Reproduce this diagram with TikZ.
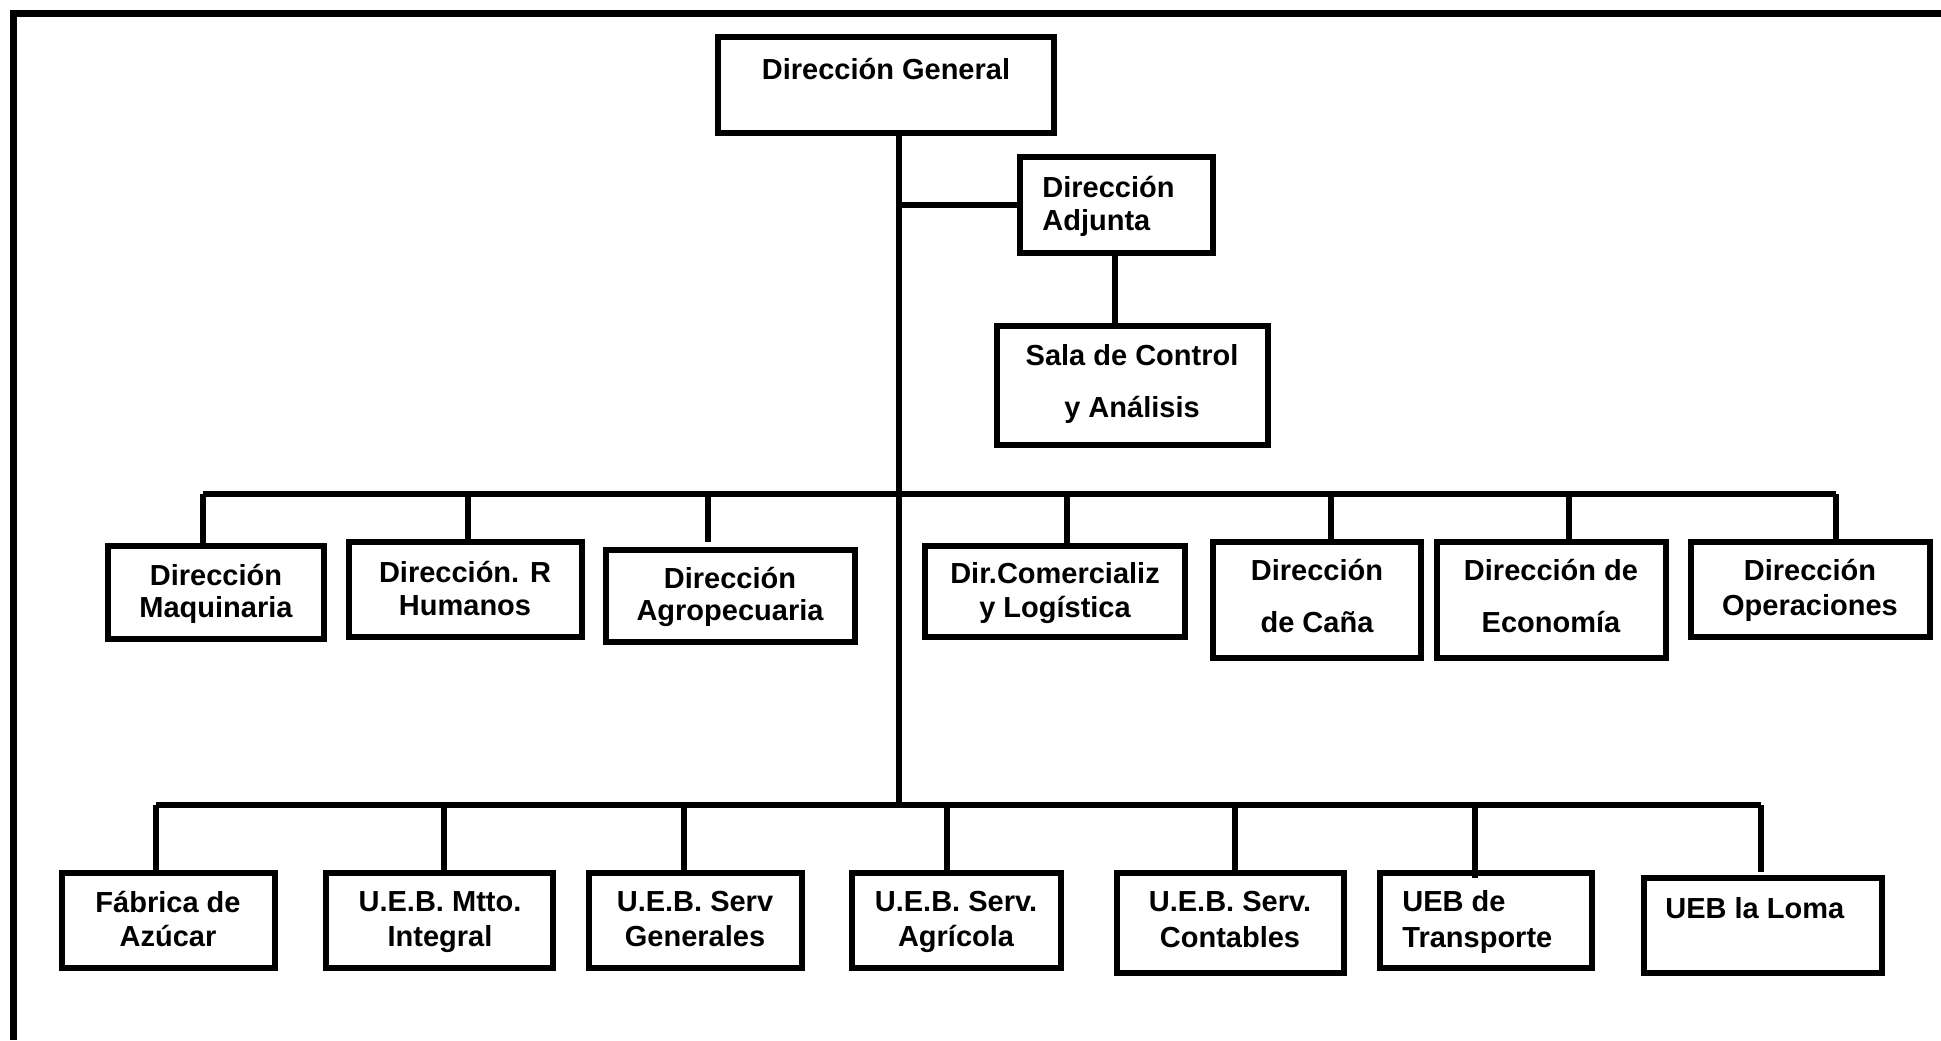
\documentclass[tikz,border=0pt]{standalone}
\usepackage{fontspec}
\setmainfont{Liberation Sans}
\newcommand\obox[5]{\node[bx, minimum width={(#4-#2-6)*0.5pt}, minimum height={(#5-#3-6)*0.5pt}] (#1) at ({(#2+#4)/2},{(#3+#5)/2}) {};}
\begin{document}
\begin{tikzpicture}[x=0.5pt,y=-0.5pt,
  bx/.style={draw, line width=3pt, rectangle, inner sep=0pt, fill=white},
  lbl/.style={inner sep=0pt, font=\fontsize{14.5pt}{17pt}\selectfont\bfseries},
  lc/.style={lbl, anchor=base},
  ll/.style={lbl, anchor=base west},
  conn/.style={line width=2.8pt},
  bus/.style={line width=3.2pt},
  frame/.style={line width=3.5pt, line join=miter}]
\useasboundingbox (0,0) rectangle (1941,1040);
\fill[white] (0,0) rectangle (1941,1040);
\draw[frame] (13,1040) -- (13,13) -- (1941,13);
% boxes
\obox{dg}{715}{34}{1057}{136}
\obox{adj}{1017}{154}{1216}{256}
\obox{sala}{994}{323}{1271}{448}
\obox{maq}{105}{543}{327}{642}
\obox{rh}{346}{539}{585}{640}
\obox{agro}{603}{547}{858}{645}
\obox{com}{922}{543}{1188}{640}
\obox{cana}{1210}{539}{1424}{661}
\obox{eco}{1434}{539}{1669}{661}
\obox{ope}{1688}{539}{1933}{640}
\obox{fab}{59}{870}{278}{971}
\obox{mtto}{323}{870}{556}{971}
\obox{sg}{586}{870}{805}{971}
\obox{sa}{849}{870}{1064}{971}
\obox{cont}{1114}{870}{1347}{976}
\obox{trans}{1377}{870}{1595}{971}
\obox{loma}{1641}{875}{1885}{976}
% bus coordinates
\coordinate (mL) at (203,494);
\coordinate (mR) at (1836,494);
\coordinate (bL) at (156,805);
\coordinate (bR) at (1761,805);
\coordinate (trunk) at (899,805);
\coordinate (adjj) at (899,205);
% trunk and upper connectors
\draw[conn] (dg.south -| trunk) -- (trunk);
\draw[conn] (adjj) -- (adjj -| adj.west);
\draw[conn] (1115,0 |- adj.south) -- (1115,0 |- sala.north);
% middle bus
\draw[bus] (mL) -- (mR);
\draw[conn] (mL) -- (mL |- maq.north);
\draw[conn] (468,494) -- (468,0 |- rh.north);
\coordinate (agroend) at (708,542);
\draw[conn] (708,494) -- (agroend);
\draw[conn] (1067,494) -- (1067,0 |- com.north);
\draw[conn] (1331,494) -- (1331,0 |- cana.north);
\draw[conn] (1569,494) -- (1569,0 |- eco.north);
\draw[conn] (mR) -- (mR |- ope.north);
% bottom bus
\draw[bus] (bL) -- (bR);
\draw[conn] (bL) -- (bL |- fab.north);
\draw[conn] (444,805) -- (444,0 |- mtto.north);
\draw[conn] (684,805) -- (684,0 |- sg.north);
\draw[conn] (947,805) -- (947,0 |- sa.north);
\draw[conn] (1235,805) -- (1235,0 |- cont.north);
\coordinate (transend) at (1475,878);
\draw[conn] (1475,805) -- (transend);
\coordinate (lomaend) at (1761,872);
\draw[conn] (bR) -- (lomaend);
% labels
\node[lc] (tdg) at (886,79) {Dirección General};
\node[ll] (tadj1) at (1042,197) {Dirección};
\node[ll] (tadj2) at (1042,230) {Adjunta};
\node[lc] (tsala1) at (1132,365) {Sala de Control};
\node[lc] (tsala2) at (1132,417) {y Análisis};
\node[lc] (tmaq1) at (216,585) {Dirección};
\node[lc] (tmaq2) at (216,617) {Maquinaria};
\node[lc] (trh1) at (465,582) {Dirección. R};
\node[lc] (trh2) at (465,615) {Humanos};
\node[lc] (tagro1) at (730,588) {Dirección};
\node[lc] (tagro2) at (730,620) {Agropecuaria};
\node[lc] (tcom1) at (1055,583) {Dir.Comercializ};
\node[lc] (tcom2) at (1055,617) {y Logística};
\node[lc] (tcana1) at (1317,580) {Dirección};
\node[lc] (tcana2) at (1317,632) {de Caña};
\node[lc] (teco1) at (1551,580) {Dirección de};
\node[lc] (teco2) at (1551,632) {Economía};
\node[lc] (tope1) at (1810,580) {Dirección};
\node[lc] (tope2) at (1810,615) {Operaciones};
\node[lc] (tfab1) at (168,912) {Fábrica de};
\node[lc] (tfab2) at (168,946) {Azúcar};
\node[lc] (tmtto1) at (440,911) {U.E.B. Mtto.};
\node[lc] (tmtto2) at (440,946) {Integral};
\node[lc] (tsg1) at (695,911) {U.E.B. Serv};
\node[lc] (tsg2) at (695,946) {Generales};
\node[lc] (tsa1) at (956,911) {U.E.B. Serv.};
\node[lc] (tsa2) at (956,946) {Agrícola};
\node[lc] (tcont1) at (1230,911) {U.E.B. Serv.};
\node[lc] (tcont2) at (1230,947) {Contables};
\node[ll] (ttrans1) at (1402,911) {UEB de};
\node[ll] (ttrans2) at (1402,947) {Transporte};
\node[ll] (tloma) at (1665,918) {UEB la Loma};
\end{tikzpicture}
\end{document}
